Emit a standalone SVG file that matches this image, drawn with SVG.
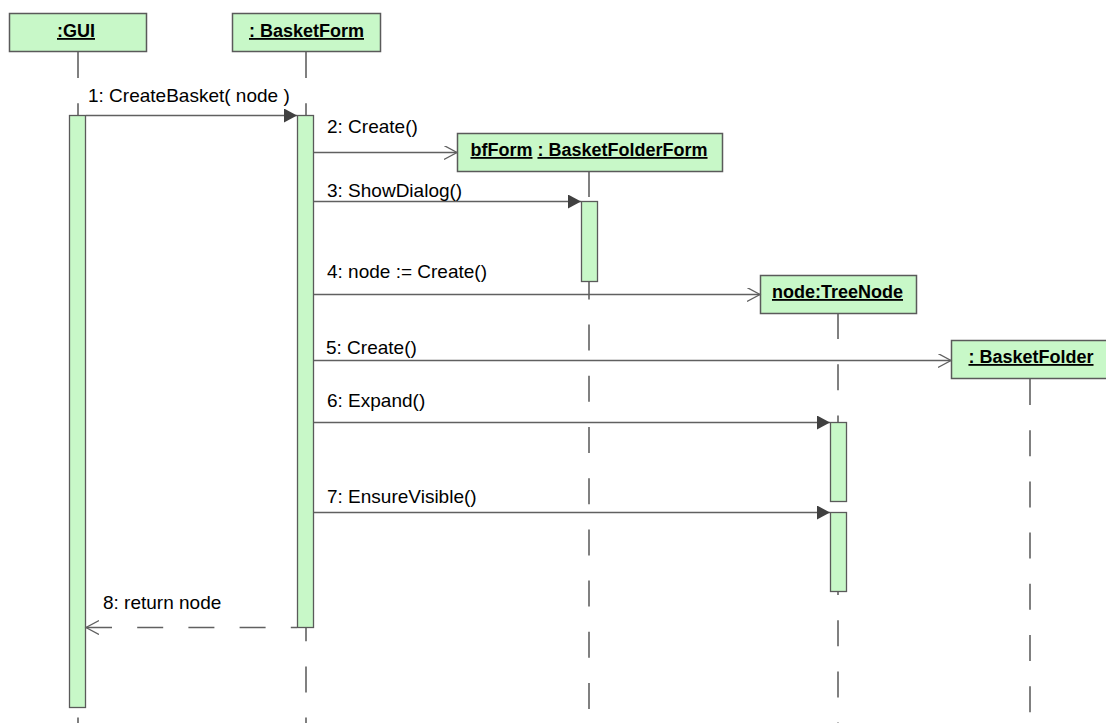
<svg xmlns="http://www.w3.org/2000/svg" width="1106" height="723" viewBox="0 0 1106 723">
  <style>
    .obj { fill: #c8f8c8; stroke: #5a5a5a; stroke-width: 1.5; }
    .name { font-family: "Liberation Sans", Arial, sans-serif; font-weight: bold; font-size: 18px; text-anchor: middle; text-decoration: underline; fill: #000; }
    .life { stroke: #808080; stroke-width: 2; stroke-dasharray: 26 25.2; fill: none; }
    .act { fill: #c8f8c8; stroke: #5a5a5a; stroke-width: 1.3; }
    .msg { stroke: #606060; stroke-width: 1.3; fill: none; }
    .ret { stroke-dasharray: 26 25.2; }
    .lbl { font-family: "Liberation Sans", Arial, sans-serif; font-size: 19px; fill: #000; }
  </style>
  <defs>
    <!-- synchronous call: filled head -->
    <marker id="call" markerUnits="userSpaceOnUse" markerWidth="14" markerHeight="16" refX="13" refY="7" orient="auto">
      <path d="M0,0 L13,7 L0,14 z" fill="#404040"/>
    </marker>
    <!-- create / return: open head -->
    <marker id="open" markerUnits="userSpaceOnUse" markerWidth="15" markerHeight="16" refX="13" refY="7" orient="auto-start-reverse">
      <path d="M0,0 L13,7 L0,14" fill="none" stroke="#606060" stroke-width="1.3"/>
    </marker>
  </defs>

  <rect width="1106" height="723" fill="#fff"/>

  <!-- GUI -->
  <g id="gui">
    <line class="life" x1="78" y1="52" x2="78" y2="723"/>
    <rect class="obj" x="9.5" y="13.5" width="137" height="38"/>
    <text class="name" x="76" y="37">:GUI</text>
    <rect class="act" x="69.5" y="115.5" width="16" height="592"/>
  </g>

  <!-- BasketForm -->
  <g id="basketForm">
    <line class="life" x1="306" y1="52" x2="306" y2="723"/>
    <rect class="obj" x="232.5" y="13.5" width="148" height="38"/>
    <text class="name" x="306.5" y="37">: BasketForm</text>
    <rect class="act" x="297.5" y="115.5" width="16" height="512"/>
  </g>

  <!-- bfForm : BasketFolderForm -->
  <g id="bfForm">
    <line class="life" x1="589" y1="171" x2="589" y2="723"/>
    <rect class="obj" x="457.5" y="133.5" width="265" height="38"/>
    <text class="name" x="589" y="156" style="text-decoration:none"><tspan text-decoration="underline">bfForm</tspan> <tspan text-decoration="underline">: BasketFolderForm</tspan></text>
    <rect class="act" x="581.5" y="201.5" width="16" height="80"/>
  </g>

  <!-- node:TreeNode -->
  <g id="treeNode">
    <line class="life" x1="838" y1="313" x2="838" y2="723"/>
    <rect class="obj" x="760.5" y="275.5" width="156" height="38"/>
    <text class="name" x="837.5" y="298">node:TreeNode</text>
    <rect class="act" x="830.5" y="422.5" width="16" height="79"/>
    <rect class="act" x="830.5" y="512.5" width="16" height="79"/>
  </g>

  <!-- : BasketFolder -->
  <g id="basketFolder">
    <line class="life" x1="1030" y1="379" x2="1030" y2="723"/>
    <rect class="obj" x="951.5" y="340.5" width="160" height="38"/>
    <text class="name" x="1031" y="363">: BasketFolder</text>
  </g>

  <!-- messages -->
  <g id="connectors">
    <path class="msg" d="M86,115.5 H297" marker-end="url(#call)"/>
    <text class="lbl" x="88" y="102">1: CreateBasket( node )</text>

    <path class="msg" d="M314,152.5 H457" marker-end="url(#open)"/>
    <text class="lbl" x="327" y="133">2: Create()</text>

    <path class="msg" d="M314,201.5 H581" marker-end="url(#call)"/>
    <text class="lbl" x="327" y="197">3: ShowDialog()</text>

    <path class="msg" d="M314,294.5 H760" marker-end="url(#open)"/>
    <text class="lbl" x="327" y="278">4: node := Create()</text>

    <path class="msg" d="M314,360.5 H951" marker-end="url(#open)"/>
    <text class="lbl" x="326" y="354">5: Create()</text>

    <path class="msg" d="M314,422.5 H830" marker-end="url(#call)"/>
    <text class="lbl" x="327" y="407">6: Expand()</text>

    <path class="msg" d="M314,512.5 H830" marker-end="url(#call)"/>
    <text class="lbl" x="327" y="503">7: EnsureVisible()</text>

    <path class="msg ret" d="M86,627.5 H297" marker-start="url(#open)"/>
    <text class="lbl" x="103" y="609">8: return node</text>
  </g>
</svg>
